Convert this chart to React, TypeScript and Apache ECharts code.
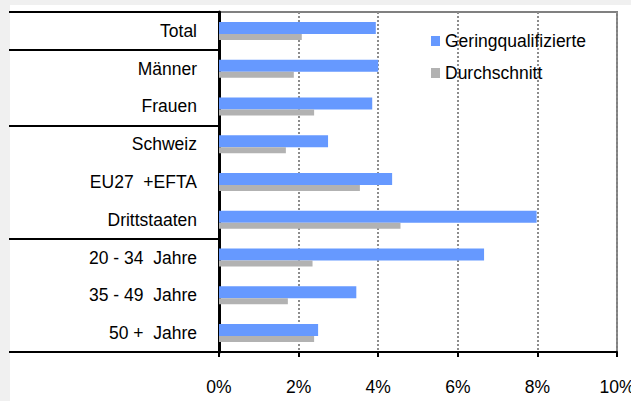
import React, { useEffect, useRef } from "react";
import * as echarts from "echarts";

const categories = [
  "Total",
  "Männer",
  "Frauen",
  "Schweiz",
  "EU27  +EFTA",
  "Drittstaaten",
  "20 - 34  Jahre",
  "35 - 49  Jahre",
  "50 +  Jahre",
];
const geringqualifizierte = [3.94, 4.0, 3.85, 2.74, 4.35, 7.98, 6.66, 3.45, 2.49];
const durchschnitt = [2.08, 1.88, 2.39, 1.68, 3.54, 4.56, 2.35, 1.73, 2.39];
const seriesNames = ["Geringqualifizierte", "Durchschnitt"];
const groupStarts = [0, 1, 3, 6];

const FONT = "'Liberation Sans', Arial, sans-serif";

export default function App() {
  const ref = useRef<HTMLDivElement>(null);
  useEffect(() => {
    if (!ref.current) return;
    const chart = echarts.init(ref.current, null, { renderer: "svg" });
    chart.setOption({
      animation: false,
      backgroundColor: "transparent",
      textStyle: { fontFamily: FONT },
      grid: {
        left: 219,
        right: 14,
        top: 12,
        bottom: 49,
        containLabel: false,
        outerBoundsMode: "none",
        show: true,
        borderColor: "#808080",
        borderWidth: 2,
        backgroundColor: "transparent",
      },
      legend: {
        data: seriesNames,
        orient: "vertical",
        left: 426,
        top: 27,
        icon: "rect",
        itemWidth: 9,
        itemHeight: 10,
        itemGap: 14,
        textStyle: { fontSize: 17.5, color: "#000", fontFamily: FONT },
      },
      xAxis: {
        type: "value",
        min: 0,
        max: 10,
        interval: 2,
        axisLine: { show: true, lineStyle: { color: "#000", width: 2 } },
        axisTick: { show: true, length: 5, lineStyle: { color: "#000", width: 2 } },
        axisLabel: {
          formatter: "{value}%",
          fontSize: 17.5,
          color: "#000",
          margin: 26,
          fontFamily: FONT,
        },
        splitLine: {
          show: true,
          lineStyle: { color: "#8c8c8c", width: 2, type: [2, 2] },
        },
      },
      yAxis: {
        type: "category",
        data: categories,
        inverse: true,
        axisLine: { show: true, lineStyle: { color: "#000", width: 3 } },
        axisTick: {
          show: true,
          length: 210,
          interval: (idx: number) => groupStarts.indexOf(idx) >= 0,
          lineStyle: { color: "#000", width: 2 },
        },
        axisLabel: {
          fontSize: 17.5,
          color: "#000",
          margin: 22,
          fontFamily: FONT,
        },
        splitLine: { show: false },
      },
      series: [
        {
          name: seriesNames[0],
          type: "bar",
          data: geringqualifizierte,
          barWidth: 12,
          barGap: "0%",
          itemStyle: { color: "#6699ff" },
        },
        {
          name: seriesNames[1],
          type: "bar",
          data: durchschnitt,
          barWidth: 6,
          barGap: "0%",
          itemStyle: { color: "#b2b2b2" },
        },
      ],
    });
    return () => chart.dispose();
  }, []);
  return (
    <div
      style={{
        position: "fixed",
        left: 0,
        top: 0,
        width: 631,
        height: 401,
        background: "#f0f0f0",
      }}
    >
      <div
        style={{
          position: "absolute",
          left: 10,
          top: 5,
          width: 621,
          height: 396,
          background: "#fff",
        }}
      />
      <div
        ref={ref}
        style={{ position: "absolute", left: 0, top: 0, width: 631, height: 401 }}
      />
    </div>
  );
}
